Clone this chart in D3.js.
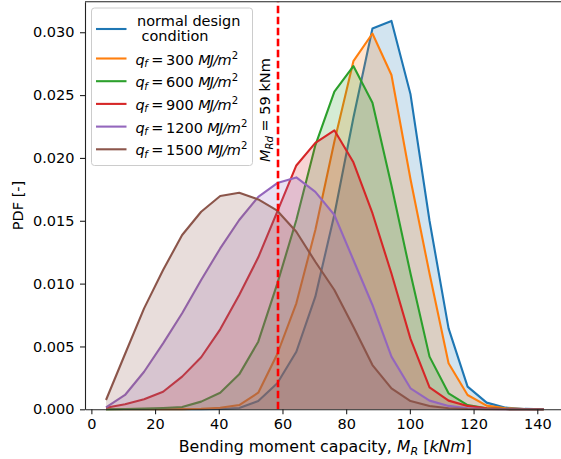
<!DOCTYPE html>
<html>
<head>
<meta charset="utf-8">
<script src="https://cdn.jsdelivr.net/npm/d3@7"></script>
<style>
  html, body { margin: 0; padding: 0; background: #fff; }
  svg { display: block; font-family: "DejaVu Sans", sans-serif; }
</style>
</head>
<body>
<svg id="chart" width="561" height="459"></svg>
<script>
// ---- data (PDF values in units of 1e-3) ----
const xGrid = [4.6, 10.57, 16.55, 22.52, 28.5, 34.47, 40.45, 46.42, 52.4, 58.37, 64.35, 70.32,
               76.3, 82.27, 88.25, 94.22, 100.2, 106.17, 112.15, 118.12, 124.1, 130.07, 136.05, 142.0];
const normalPdf = [0, 0, 0, 0, 0, 0, 0.02, 0.1, 0.66, 2.07, 4.58, 8.96, 15.5, 23.2, 30.3, 30.9, 25.06, 15.0, 6.44, 1.80, 0.53, 0.13, 0.03, 0];
const q300Pdf   = [0, 0, 0, 0, 0.01, 0.04, 0.12, 0.34, 1.32, 4.4, 8.43, 14.26, 21.3, 27.7, 29.9, 26.6, 18.3, 10.8, 3.66, 1.14, 0.29, 0.08, 0.02, 0];
const q600Pdf   = [0, 0.02, 0.05, 0.1, 0.18, 0.61, 1.32, 2.78, 5.38, 10.0, 15.06, 21.0, 25.27, 27.31, 24.39, 17.8, 10.8, 4.19, 1.27, 0.34, 0.08, 0.02, 0, 0];
const q900Pdf   = [0.13, 0.40, 0.80, 1.40, 2.6, 4.14, 6.36, 9.09, 12.09, 15.72, 19.4, 21.2, 22.2, 19.65, 15.6, 10.8, 5.6, 1.75, 0.69, 0.27, 0.08, 0.02, 0, 0];
const q1200Pdf  = [0.16, 1.14, 2.99, 5.25, 7.64, 10.29, 12.8, 15.06, 16.9, 18.0, 18.45, 17.3, 15.46, 11.88, 8.3, 4.19, 1.67, 0.69, 0.27, 0.08, 0.02, 0, 0, 0];
const q1500Pdf  = [0.74, 4.4, 8.03, 11.08, 13.87, 15.72, 16.97, 17.23, 16.7, 15.8, 14.13, 11.74, 9.49, 6.57, 3.52, 1.67, 0.66, 0.26, 0.08, 0.02, 0, 0, 0, 0];
const seriesValues = [normalPdf, q300Pdf, q600Pdf, q900Pdf, q1200Pdf, q1500Pdf];
const seriesNames = ["normal design|condition", "300", "600", "900", "1200", "1500"];
const colors = ["#1f77b4", "#ff7f0e", "#2ca02c", "#d62728", "#9467bd", "#8c564b"];
const xTicks = [0, 20, 40, 60, 80, 100, 120, 140];
const yTicks = [0, 0.005, 0.010, 0.015, 0.020, 0.025, 0.030];
const designValue = 58.6;
const designLabel = "59";

// ---- layout ----
const svg = d3.select("#chart");
const plotLeft = 85, plotTop = 1.7, plotBottom = 409.3;
const x = d3.scaleLinear().domain([-2.0, 148.9]).range([plotLeft, plotLeft + 150.9 * 3.185]);
const y = d3.scaleLinear().domain([0, 0.03243]).range([plotBottom, plotTop]);
const FS = 14.5;

// ---- series ----
const area = d3.area().x((d, i) => x(xGrid[i])).y0(y(0)).y1(d => y(d / 1000));
const line = d3.line().x((d, i) => x(xGrid[i])).y(d => y(d / 1000));
const plot = svg.append("g");
seriesValues.forEach((vals, k) => {
  plot.append("path").attr("d", line(vals)).attr("fill", "none")
    .attr("stroke", colors[k]).attr("stroke-width", 2.1).attr("stroke-linejoin", "round");
  plot.append("path").attr("d", area(vals)).attr("fill", colors[k]).attr("fill-opacity", 0.2);
});

// design line
plot.append("line").attr("x1", x(designValue)).attr("x2", x(designValue))
  .attr("y1", y(0)).attr("y2", plotTop)
  .attr("stroke", "#ff0000").attr("stroke-width", 2.6).attr("stroke-dasharray", "7.5,3.5");

// rotated label
const rl = svg.append("text").attr("transform", `translate(270,162) rotate(-90)`)
  .attr("font-size", FS).attr("fill", "#000");
rl.append("tspan").attr("font-style", "italic").text("M");
rl.append("tspan").attr("font-style", "italic").attr("font-size", FS * 0.7).attr("dy", 3).text("Rd");
rl.append("tspan").attr("dy", -3).text(" = " + designLabel + " kNm");

// ---- axes ----
const xAxis = svg.append("g").attr("transform", `translate(0,${plotBottom})`)
  .call(d3.axisBottom(x).tickValues(xTicks).tickSize(5).tickPadding(4.5).tickSizeOuter(0).tickFormat(d3.format("d")));
const yAxis = svg.append("g").attr("transform", `translate(${plotLeft},0)`)
  .call(d3.axisLeft(y).tickValues(yTicks).tickSize(5).tickPadding(5.5).tickSizeOuter(0).tickFormat(d3.format(".3f")));
[xAxis, yAxis].forEach(a => {
  a.selectAll("text").attr("font-size", FS).attr("font-family", "DejaVu Sans").attr("fill", "#000");
  a.selectAll("line").attr("stroke", "#222").attr("stroke-width", 1.1);
  a.select(".domain").attr("stroke", "#222").attr("stroke-width", 1.1);
});
svg.append("line").attr("x1", plotLeft).attr("x2", 566).attr("y1", plotTop).attr("y2", plotTop)
  .attr("stroke", "#222").attr("stroke-width", 1.1);

// axis labels
const XFS = 15.8;
const xl = svg.append("text").attr("x", (x.range()[0] + x.range()[1]) / 2).attr("y", 452)
  .attr("text-anchor", "middle").attr("font-size", XFS).attr("fill", "#000");
xl.append("tspan").text("Bending moment capacity, ");
xl.append("tspan").attr("font-style", "italic").text("M");
xl.append("tspan").attr("font-style", "italic").attr("font-size", XFS * 0.7).attr("dy", 3).text("R");
xl.append("tspan").attr("dy", -3).text(" [");
xl.append("tspan").attr("font-style", "italic").text("kNm");
xl.append("tspan").text("]");

svg.append("text").attr("transform", `translate(23,${(plotTop + plotBottom) / 2}) rotate(-90)`)
  .attr("text-anchor", "middle").attr("font-size", FS).attr("fill", "#000").text("PDF [-]");

// ---- legend ----
const lg = svg.append("g");
lg.append("rect").attr("x", 91.5).attr("y", 8).attr("width", 161).attr("height", 157.5)
  .attr("rx", 3).attr("fill", "#fff").attr("fill-opacity", 0.8).attr("stroke", "#cccccc").attr("stroke-width", 1);
const rowY = [29, 58.5, 81.2, 103.9, 126.6, 149.3];
seriesNames.forEach((name, k) => {
  lg.append("line").attr("x1", 96).attr("x2", 126.5).attr("y1", rowY[k]).attr("y2", rowY[k])
    .attr("stroke", colors[k]).attr("stroke-width", 2.1);
  if (k === 0) {
    const parts = name.split("|");
    lg.append("text").attr("x", 137).attr("y", 25.7).attr("font-size", FS).text(parts[0]);
    lg.append("text").attr("x", 141.5).attr("y", 41).attr("font-size", FS).text(parts[1]);
  } else {
    const t = lg.append("text").attr("x", 135.5).attr("y", rowY[k] + 6).attr("font-size", FS);
    t.append("tspan").attr("font-style", "italic").text("q");
    t.append("tspan").attr("font-style", "italic").attr("font-size", FS * 0.7).attr("dy", 2.5).attr("dx", -0.5).text("f");
    t.append("tspan").attr("dy", -2.5).attr("dx", 3.5).text("=");
    t.append("tspan").attr("dx", 2.5).text(name);
    t.append("tspan").attr("dx", 4.5).attr("font-style", "italic").attr("letter-spacing", -0.8).text("MJ/m");
    t.append("tspan").attr("font-size", FS * 0.7).attr("dy", -6).attr("dx", 1).text("2");
  }
});
</script>
</body>
</html>
